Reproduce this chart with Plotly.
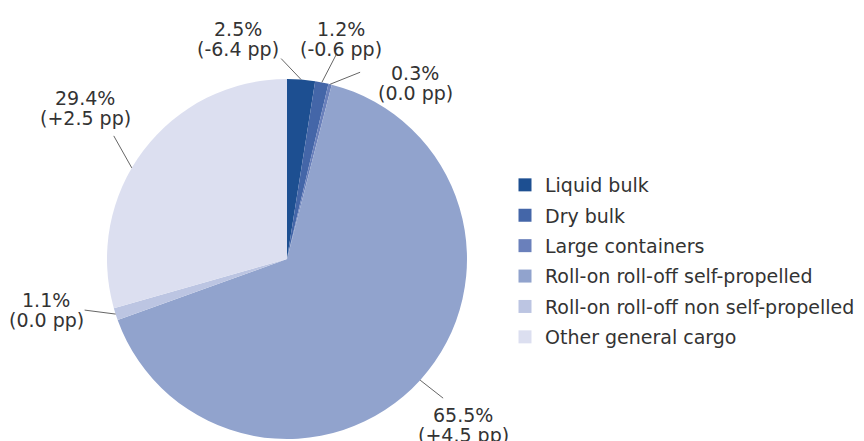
import math
import plotly.graph_objects as go

# ---- data ----
categories = [
    "Liquid bulk",
    "Dry bulk",
    "Large containers",
    "Roll-on roll-off self-propelled",
    "Roll-on roll-off non self-propelled",
    "Other general cargo",
]
shares = [2.5, 1.2, 0.3, 65.5, 1.1, 29.4]
changes_pp = [-6.4, -0.6, 0.0, 4.5, 0.0, 2.5]

# ---- style ----
colors = ["#1d4f91", "#4466a8", "#6a80bb", "#91a3cd", "#bcc5e2", "#dcdff0"]
FONT = "DejaVu Sans"
FS = 19
TXT = "#333333"
W, H = 864, 441
CX, CY, R = 287, 259, 180

# per label: (anchor fraction in slice, leader tail dx, dy, text centre x, first line y)
label_style = [
    (0.5, -20, -21, 238, 28),
    (0.5, 15, -29, 341, 28),
    (0.5, 30, -12, 415, 72),
    (0.5, 23, 18, 463, 414),
    (0.5, -31, -4, 46, 299),
    (0.437, -18, -32, 85, 97),
]
LINE_GAP = 20


def px(x):
    return x / W


def py(y):
    return 1 - y / H


fig = go.Figure()
fig.add_trace(go.Pie(
    labels=categories,
    values=shares,
    sort=False,
    direction="clockwise",
    rotation=0,
    textinfo="none",
    hoverinfo="label+percent",
    marker=dict(colors=colors, line=dict(width=0)),
    domain=dict(x=[px(CX - R), px(CX + R)], y=[py(CY + R), py(CY - R)]),
    showlegend=False,
))

# legend entries
for cat, col in zip(categories, colors):
    fig.add_trace(go.Scatter(
        x=[None], y=[None], mode="markers", name=cat, legendgroup=cat,
        marker=dict(symbol="square", size=13, color=col, line=dict(width=0)),
        hoverinfo="skip", showlegend=True,
    ))

total = sum(shares)
cum = 0.0
annotations = []
shapes = []
for share, ch, st in zip(shares, changes_pp, label_style):
    frac, tdx, tdy, tx, ty = st
    theta = 2 * math.pi * (cum + frac * share) / total
    cum += share
    hx = CX + R * math.sin(theta)
    hy = CY - R * math.cos(theta)
    shapes.append(dict(type="line", xref="paper", yref="paper",
                       x0=px(hx), y0=py(hy), x1=px(hx + tdx), y1=py(hy + tdy),
                       line=dict(color="#666666", width=1)))
    sign = "+" if ch > 0 else ""
    l1 = f"{share:.1f}%"
    l2 = f"({sign}{ch:.1f} pp)"
    for i, t in enumerate([l1, l2]):
        annotations.append(dict(text=t, xref="paper", yref="paper",
                                x=px(tx), y=py(ty + 1 + i * LINE_GAP),
                                xanchor="center", yanchor="middle", showarrow=False,
                                font=dict(family=FONT, size=FS, color=TXT)))

fig.update_layout(
    width=W, height=H,
    margin=dict(l=0, r=0, t=0, b=0),
    paper_bgcolor="white", plot_bgcolor="white",
    font=dict(family=FONT, size=FS, color=TXT),
    xaxis=dict(visible=False), yaxis=dict(visible=False),
    shapes=shapes, annotations=annotations,
    legend=dict(x=px(505), xanchor="left", y=py(166), yanchor="top",
                font=dict(family=FONT, size=FS, color=TXT),
                tracegroupgap=2.7, bgcolor="rgba(0,0,0,0)"),
)

fig.write_html("out.html", config={"displayModeBar": False},
               post_script="document.body.style.margin='0';")
